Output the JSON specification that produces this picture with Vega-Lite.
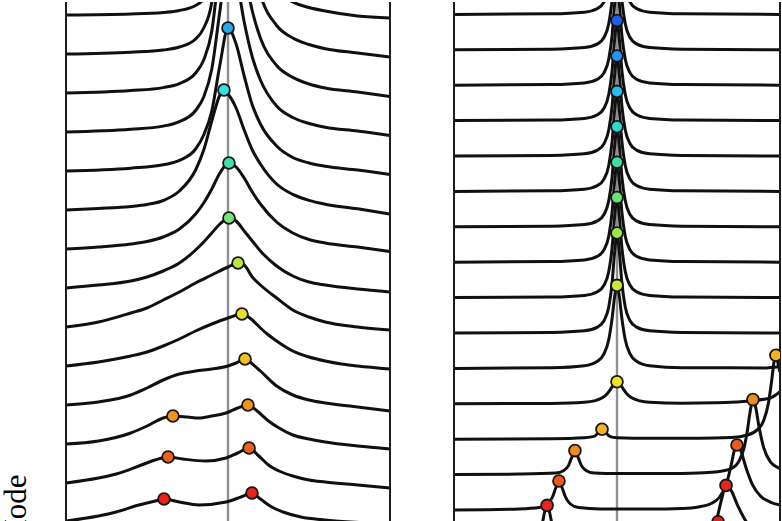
{
"$schema": "https://vega.github.io/schema/vega-lite/v6.json",
"padding": {"left": 0, "top": 0, "right": 0, "bottom": 0},
"spacing": 62,
"background": "white",
"config": {"view": {"stroke": null}},
"resolve": {"scale": {"x": "independent", "y": "independent", "color": "independent"}},
"datasets": {
"frame": [{"x": -1}, {"x": 1}],
"center": [{"x": 0}],
"lc": [
{"k":13,"x":-1,"y":507},{"k":13,"x":-0.6,"y":508},{"k":13,"x":-0.4,"y":509.5},{"k":13,"x":-0.3,"y":511.5},{"k":13,"x":-0.2,"y":516.5},{"k":13,"x":-0.15,"y":523},{"k":13,"x":-0.1,"y":541},{"k":13,"x":-0.05,"y":607},{"k":13,"x":0,"y":807},{"k":13,"x":0.05,"y":737},{"k":13,"x":0.1,"y":642},{"k":13,"x":0.15,"y":587},{"k":13,"x":0.2,"y":557},{"k":13,"x":0.3,"y":532},{"k":13,"x":0.4,"y":520},{"k":13,"x":0.5,"y":514.5},{"k":13,"x":0.6,"y":511},{"k":13,"x":0.8,"y":506},{"k":13,"x":1,"y":504},
{"k":12,"x":-1,"y":468},{"k":12,"x":-0.6,"y":469.8},{"k":12,"x":-0.4,"y":472},{"k":12,"x":-0.3,"y":475},{"k":12,"x":-0.2,"y":483},{"k":12,"x":-0.15,"y":494},{"k":12,"x":-0.1,"y":520},{"k":12,"x":-0.05,"y":598},{"k":12,"x":0,"y":728},{"k":12,"x":0.05,"y":683},{"k":12,"x":0.1,"y":610},{"k":12,"x":0.15,"y":559},{"k":12,"x":0.2,"y":527},{"k":12,"x":0.3,"y":496.5},{"k":12,"x":0.4,"y":484},{"k":12,"x":0.5,"y":477.5},{"k":12,"x":0.6,"y":473.3},{"k":12,"x":0.8,"y":469},{"k":12,"x":1,"y":465},
{"k":11,"x":-1,"y":429},{"k":11,"x":-0.6,"y":431.4},{"k":11,"x":-0.4,"y":434.4},{"k":11,"x":-0.3,"y":438.4},{"k":11,"x":-0.2,"y":449},{"k":11,"x":-0.15,"y":462},{"k":11,"x":-0.1,"y":491},{"k":11,"x":-0.05,"y":561},{"k":11,"x":0,"y":639},{"k":11,"x":0.05,"y":608},{"k":11,"x":0.1,"y":553},{"k":11,"x":0.15,"y":511},{"k":11,"x":0.2,"y":484},{"k":11,"x":0.3,"y":456.5},{"k":11,"x":0.4,"y":444.6},{"k":11,"x":0.5,"y":438},{"k":11,"x":0.6,"y":434},{"k":11,"x":0.8,"y":430},{"k":11,"x":1,"y":425.5},
{"k":10,"x":-1,"y":390},{"k":10,"x":-0.6,"y":392.7},{"k":10,"x":-0.4,"y":395.9},{"k":10,"x":-0.3,"y":400.3},{"k":10,"x":-0.2,"y":411.5},{"k":10,"x":-0.15,"y":425},{"k":10,"x":-0.1,"y":453},{"k":10,"x":-0.05,"y":511},{"k":10,"x":0,"y":565},{"k":10,"x":0.05,"y":545},{"k":10,"x":0.1,"y":500},{"k":10,"x":0.15,"y":465},{"k":10,"x":0.2,"y":442},{"k":10,"x":0.3,"y":416},{"k":10,"x":0.4,"y":404.5},{"k":10,"x":0.5,"y":398.5},{"k":10,"x":0.6,"y":394.8},{"k":10,"x":0.8,"y":391},{"k":10,"x":1,"y":386.5},
{"k":9,"x":-1,"y":351},{"k":9,"x":-0.6,"y":353.8},{"k":9,"x":-0.4,"y":357.2},{"k":9,"x":-0.3,"y":361.6},{"k":9,"x":-0.2,"y":373},{"k":9,"x":-0.15,"y":387},{"k":9,"x":-0.1,"y":411},{"k":9,"x":-0.05,"y":457},{"k":9,"x":0,"y":494},{"k":9,"x":0.05,"y":478},{"k":9,"x":0.1,"y":446},{"k":9,"x":0.15,"y":417},{"k":9,"x":0.2,"y":398},{"k":9,"x":0.3,"y":376},{"k":9,"x":0.4,"y":364.5},{"k":9,"x":0.5,"y":359},{"k":9,"x":0.6,"y":355.7},{"k":9,"x":0.8,"y":352},{"k":9,"x":1,"y":347.5},
{"k":8,"x":-1,"y":312},{"k":8,"x":-0.8,"y":313.5},{"k":8,"x":-0.6,"y":315.5},{"k":8,"x":-0.5,"y":317.5},{"k":8,"x":-0.4,"y":321.5},{"k":8,"x":-0.3,"y":331},{"k":8,"x":-0.2,"y":352},{"k":8,"x":-0.15,"y":372},{"k":8,"x":-0.1,"y":401},{"k":8,"x":-0.05,"y":427},{"k":8,"x":-0.025,"y":432},{"k":8,"x":0,"y":428},{"k":8,"x":0.05,"y":414},{"k":8,"x":0.1,"y":392},{"k":8,"x":0.15,"y":372},{"k":8,"x":0.2,"y":358},{"k":8,"x":0.3,"y":338},{"k":8,"x":0.4,"y":327.6},{"k":8,"x":0.5,"y":321.6},{"k":8,"x":0.6,"y":317.8},{"k":8,"x":0.8,"y":313.2},{"k":8,"x":1,"y":308},
{"k":7,"x":-1,"y":273},{"k":7,"x":-0.8,"y":275},{"k":7,"x":-0.6,"y":278},{"k":7,"x":-0.5,"y":280.5},{"k":7,"x":-0.4,"y":285},{"k":7,"x":-0.3,"y":293},{"k":7,"x":-0.2,"y":308},{"k":7,"x":-0.15,"y":319},{"k":7,"x":-0.1,"y":333},{"k":7,"x":-0.05,"y":349},{"k":7,"x":0.006,"y":359},{"k":7,"x":0.05,"y":355},{"k":7,"x":0.1,"y":344},{"k":7,"x":0.15,"y":330},{"k":7,"x":0.2,"y":318},{"k":7,"x":0.3,"y":300},{"k":7,"x":0.4,"y":289},{"k":7,"x":0.5,"y":282.5},{"k":7,"x":0.6,"y":279},{"k":7,"x":0.8,"y":275},{"k":7,"x":1,"y":270.5},
{"k":6,"x":-1,"y":234},{"k":6,"x":-0.8,"y":237},{"k":6,"x":-0.6,"y":241},{"k":6,"x":-0.5,"y":245},{"k":6,"x":-0.4,"y":251},{"k":6,"x":-0.3,"y":259},{"k":6,"x":-0.2,"y":272},{"k":6,"x":-0.15,"y":280},{"k":6,"x":-0.1,"y":289},{"k":6,"x":-0.05,"y":298},{"k":6,"x":0.006,"y":304},{"k":6,"x":0.05,"y":301},{"k":6,"x":0.1,"y":291},{"k":6,"x":0.15,"y":281},{"k":6,"x":0.2,"y":271},{"k":6,"x":0.3,"y":256},{"k":6,"x":0.4,"y":246},{"k":6,"x":0.5,"y":240},{"k":6,"x":0.6,"y":237},{"k":6,"x":0.8,"y":233},{"k":6,"x":1,"y":230},
{"k":5,"x":-1,"y":195},{"k":5,"x":-0.8,"y":200},{"k":5,"x":-0.6,"y":209},{"k":5,"x":-0.5,"y":214},{"k":5,"x":-0.4,"y":222},{"k":5,"x":-0.3,"y":230},{"k":5,"x":-0.2,"y":239},{"k":5,"x":-0.1,"y":247},{"k":5,"x":0,"y":255},{"k":5,"x":0.062,"y":259},{"k":5,"x":0.1,"y":257},{"k":5,"x":0.15,"y":245},{"k":5,"x":0.2,"y":237},{"k":5,"x":0.3,"y":224},{"k":5,"x":0.4,"y":212},{"k":5,"x":0.5,"y":205},{"k":5,"x":0.6,"y":200},{"k":5,"x":0.8,"y":195},{"k":5,"x":1,"y":192},
{"k":4,"x":-1,"y":156},{"k":4,"x":-0.8,"y":160},{"k":4,"x":-0.6,"y":166},{"k":4,"x":-0.5,"y":170},{"k":4,"x":-0.4,"y":176},{"k":4,"x":-0.3,"y":183},{"k":4,"x":-0.2,"y":191},{"k":4,"x":-0.1,"y":198},{"k":4,"x":0,"y":204},{"k":4,"x":0.086,"y":208},{"k":4,"x":0.15,"y":202},{"k":4,"x":0.2,"y":194},{"k":4,"x":0.25,"y":187},{"k":4,"x":0.3,"y":181},{"k":4,"x":0.4,"y":171},{"k":4,"x":0.5,"y":165},{"k":4,"x":0.6,"y":161},{"k":4,"x":0.7,"y":158},{"k":4,"x":0.8,"y":156},{"k":4,"x":1,"y":153},
{"k":3,"x":-1,"y":117},{"k":3,"x":-0.8,"y":120},{"k":3,"x":-0.6,"y":127},{"k":3,"x":-0.5,"y":134},{"k":3,"x":-0.4,"y":142},{"k":3,"x":-0.3,"y":148},{"k":3,"x":-0.2,"y":151},{"k":3,"x":-0.1,"y":153},{"k":3,"x":0,"y":156},{"k":3,"x":0.05,"y":159},{"k":3,"x":0.105,"y":163},{"k":3,"x":0.15,"y":158},{"k":3,"x":0.2,"y":151},{"k":3,"x":0.3,"y":136},{"k":3,"x":0.4,"y":127},{"k":3,"x":0.5,"y":122},{"k":3,"x":0.6,"y":119},{"k":3,"x":0.8,"y":115},{"k":3,"x":1,"y":111},
{"k":2,"x":-1,"y":78},{"k":2,"x":-0.8,"y":81},{"k":2,"x":-0.6,"y":89},{"k":2,"x":-0.5,"y":96},{"k":2,"x":-0.4,"y":104},{"k":2,"x":-0.34,"y":106},{"k":2,"x":-0.25,"y":105},{"k":2,"x":-0.18,"y":104},{"k":2,"x":-0.1,"y":106},{"k":2,"x":-0.012,"y":109},{"k":2,"x":0.06,"y":114},{"k":2,"x":0.123,"y":117},{"k":2,"x":0.18,"y":111},{"k":2,"x":0.25,"y":101},{"k":2,"x":0.315,"y":94},{"k":2,"x":0.4,"y":87},{"k":2,"x":0.5,"y":83},{"k":2,"x":0.6,"y":80},{"k":2,"x":0.8,"y":76},{"k":2,"x":1,"y":73},
{"k":1,"x":-1,"y":39},{"k":1,"x":-0.8,"y":44},{"k":1,"x":-0.69,"y":48},{"k":1,"x":-0.55,"y":56},{"k":1,"x":-0.45,"y":62},{"k":1,"x":-0.37,"y":65},{"k":1,"x":-0.28,"y":63},{"k":1,"x":-0.136,"y":61},{"k":1,"x":-0.012,"y":64},{"k":1,"x":0.06,"y":69},{"k":1,"x":0.13,"y":74},{"k":1,"x":0.19,"y":66},{"k":1,"x":0.25,"y":57},{"k":1,"x":0.315,"y":51},{"k":1,"x":0.4,"y":46},{"k":1,"x":0.5,"y":42},{"k":1,"x":0.6,"y":40},{"k":1,"x":0.8,"y":37},{"k":1,"x":1,"y":34},
{"k":0,"x":-1,"y":1},{"k":0,"x":-0.8,"y":6},{"k":0,"x":-0.69,"y":10},{"k":0,"x":-0.55,"y":17},{"k":0,"x":-0.45,"y":21},{"k":0,"x":-0.395,"y":23},{"k":0,"x":-0.3,"y":20},{"k":0,"x":-0.18,"y":17},{"k":0,"x":-0.012,"y":20},{"k":0,"x":0.08,"y":25},{"k":0,"x":0.148,"y":29},{"k":0,"x":0.2,"y":23},{"k":0,"x":0.27,"y":15},{"k":0,"x":0.34,"y":10},{"k":0,"x":0.45,"y":5},{"k":0,"x":0.6,"y":2},{"k":0,"x":0.85,"y":-1},{"k":0,"x":1,"y":-3}
],
"ld": [
{"k":9,"x":0,"y":494},{"k":8,"x":-0.025,"y":432},{"k":7,"x":0.006,"y":359},{"k":6,"x":0.006,"y":304},{"k":5,"x":0.062,"y":259},{"k":4,"x":0.086,"y":208},{"k":3,"x":0.105,"y":163},{"k":2,"x":0.123,"y":117},{"k":2,"x":-0.34,"y":106},{"k":1,"x":0.13,"y":74},{"k":1,"x":-0.37,"y":65},{"k":0,"x":0.148,"y":29},{"k":0,"x":-0.395,"y":23}
],
"rc": [
{"k":14,"x":-1,"y":495.6},{"k":14,"x":-0.4,"y":496.2},{"k":14,"x":-0.2,"y":497.8},{"k":14,"x":-0.12,"y":501.5},{"k":14,"x":-0.08,"y":507.9},{"k":14,"x":-0.05,"y":522.1},{"k":14,"x":-0.03,"y":545.6},{"k":14,"x":-0.015,"y":575.6},{"k":14,"x":0,"y":595.6},{"k":14,"x":0.015,"y":575.6},{"k":14,"x":0.03,"y":545.6},{"k":14,"x":0.05,"y":522.1},{"k":14,"x":0.08,"y":507.9},{"k":14,"x":0.12,"y":501.5},{"k":14,"x":0.2,"y":497.8},{"k":14,"x":0.4,"y":496.2},{"k":14,"x":1,"y":495.6},
{"k":13,"x":-1,"y":460.2},{"k":13,"x":-0.4,"y":460.8},{"k":13,"x":-0.2,"y":462.4},{"k":13,"x":-0.12,"y":466.1},{"k":13,"x":-0.08,"y":472.5},{"k":13,"x":-0.05,"y":486.7},{"k":13,"x":-0.03,"y":510.2},{"k":13,"x":-0.015,"y":540.2},{"k":13,"x":0,"y":560.2},{"k":13,"x":0.015,"y":540.2},{"k":13,"x":0.03,"y":510.2},{"k":13,"x":0.05,"y":486.7},{"k":13,"x":0.08,"y":472.5},{"k":13,"x":0.12,"y":466.1},{"k":13,"x":0.2,"y":462.4},{"k":13,"x":0.4,"y":460.8},{"k":13,"x":1,"y":460.2},
{"k":12,"x":-1,"y":424.8},{"k":12,"x":-0.4,"y":425.4},{"k":12,"x":-0.2,"y":427},{"k":12,"x":-0.12,"y":430.7},{"k":12,"x":-0.08,"y":437.1},{"k":12,"x":-0.05,"y":451.3},{"k":12,"x":-0.03,"y":474.8},{"k":12,"x":-0.015,"y":504.8},{"k":12,"x":0,"y":524.8},{"k":12,"x":0.015,"y":504.8},{"k":12,"x":0.03,"y":474.8},{"k":12,"x":0.05,"y":451.3},{"k":12,"x":0.08,"y":437.1},{"k":12,"x":0.12,"y":430.7},{"k":12,"x":0.2,"y":427},{"k":12,"x":0.4,"y":425.4},{"k":12,"x":1,"y":424.8},
{"k":11,"x":-1,"y":389.4},{"k":11,"x":-0.4,"y":390},{"k":11,"x":-0.2,"y":391.6},{"k":11,"x":-0.12,"y":395.3},{"k":11,"x":-0.08,"y":401.7},{"k":11,"x":-0.05,"y":415.9},{"k":11,"x":-0.03,"y":439.4},{"k":11,"x":-0.015,"y":469.4},{"k":11,"x":0,"y":489.4},{"k":11,"x":0.015,"y":469.4},{"k":11,"x":0.03,"y":439.4},{"k":11,"x":0.05,"y":415.9},{"k":11,"x":0.08,"y":401.7},{"k":11,"x":0.12,"y":395.3},{"k":11,"x":0.2,"y":391.6},{"k":11,"x":0.4,"y":390},{"k":11,"x":1,"y":389.4},
{"k":10,"x":-1,"y":354},{"k":10,"x":-0.4,"y":354.6},{"k":10,"x":-0.2,"y":356.2},{"k":10,"x":-0.12,"y":359.9},{"k":10,"x":-0.08,"y":366.3},{"k":10,"x":-0.05,"y":380.5},{"k":10,"x":-0.03,"y":404},{"k":10,"x":-0.015,"y":434},{"k":10,"x":0,"y":454},{"k":10,"x":0.015,"y":434},{"k":10,"x":0.03,"y":404},{"k":10,"x":0.05,"y":380.5},{"k":10,"x":0.08,"y":366.3},{"k":10,"x":0.12,"y":359.9},{"k":10,"x":0.2,"y":356.2},{"k":10,"x":0.4,"y":354.6},{"k":10,"x":1,"y":354},
{"k":9,"x":-1,"y":318.6},{"k":9,"x":-0.4,"y":319.2},{"k":9,"x":-0.2,"y":320.8},{"k":9,"x":-0.12,"y":324.5},{"k":9,"x":-0.08,"y":330.9},{"k":9,"x":-0.05,"y":345.1},{"k":9,"x":-0.03,"y":368.6},{"k":9,"x":-0.015,"y":398.6},{"k":9,"x":0,"y":418.6},{"k":9,"x":0.015,"y":398.6},{"k":9,"x":0.03,"y":368.6},{"k":9,"x":0.05,"y":345.1},{"k":9,"x":0.08,"y":330.9},{"k":9,"x":0.12,"y":324.5},{"k":9,"x":0.2,"y":320.8},{"k":9,"x":0.4,"y":319.2},{"k":9,"x":1,"y":318.6},
{"k":8,"x":-1,"y":283.2},{"k":8,"x":-0.4,"y":283.8},{"k":8,"x":-0.2,"y":285.4},{"k":8,"x":-0.12,"y":289.1},{"k":8,"x":-0.08,"y":295.5},{"k":8,"x":-0.05,"y":309.7},{"k":8,"x":-0.03,"y":333.2},{"k":8,"x":-0.015,"y":363.2},{"k":8,"x":0,"y":383.2},{"k":8,"x":0.015,"y":363.2},{"k":8,"x":0.03,"y":333.2},{"k":8,"x":0.05,"y":309.7},{"k":8,"x":0.08,"y":295.5},{"k":8,"x":0.12,"y":289.1},{"k":8,"x":0.2,"y":285.4},{"k":8,"x":0.4,"y":283.8},{"k":8,"x":1,"y":283.2},
{"k":7,"x":-1,"y":247.8},{"k":7,"x":-0.4,"y":248.4},{"k":7,"x":-0.2,"y":250},{"k":7,"x":-0.12,"y":253.7},{"k":7,"x":-0.08,"y":260.1},{"k":7,"x":-0.05,"y":274.3},{"k":7,"x":-0.03,"y":297.8},{"k":7,"x":-0.015,"y":327.8},{"k":7,"x":0,"y":347.8},{"k":7,"x":0.015,"y":327.8},{"k":7,"x":0.03,"y":297.8},{"k":7,"x":0.05,"y":274.3},{"k":7,"x":0.08,"y":260.1},{"k":7,"x":0.12,"y":253.7},{"k":7,"x":0.2,"y":250},{"k":7,"x":0.4,"y":248.4},{"k":7,"x":1,"y":247.8},
{"k":6,"x":-1,"y":212.4},{"k":6,"x":-0.4,"y":213},{"k":6,"x":-0.2,"y":214.6},{"k":6,"x":-0.12,"y":218.3},{"k":6,"x":-0.08,"y":224.7},{"k":6,"x":-0.05,"y":238.9},{"k":6,"x":-0.03,"y":262.4},{"k":6,"x":-0.015,"y":292.4},{"k":6,"x":0,"y":312.4},{"k":6,"x":0.015,"y":292.4},{"k":6,"x":0.03,"y":262.4},{"k":6,"x":0.05,"y":238.9},{"k":6,"x":0.08,"y":224.7},{"k":6,"x":0.12,"y":218.3},{"k":6,"x":0.2,"y":214.6},{"k":6,"x":0.4,"y":213},{"k":6,"x":1,"y":212.4},
{"k":5,"x":-1,"y":177},{"k":5,"x":-0.4,"y":177.6},{"k":5,"x":-0.2,"y":179.2},{"k":5,"x":-0.12,"y":182.9},{"k":5,"x":-0.08,"y":189.3},{"k":5,"x":-0.05,"y":203.5},{"k":5,"x":-0.03,"y":227},{"k":5,"x":-0.015,"y":257},{"k":5,"x":0,"y":277},{"k":5,"x":0.015,"y":257},{"k":5,"x":0.03,"y":227},{"k":5,"x":0.05,"y":203.5},{"k":5,"x":0.08,"y":189.3},{"k":5,"x":0.12,"y":182.9},{"k":5,"x":0.2,"y":179.2},{"k":5,"x":0.4,"y":177.6},{"k":5,"x":1,"y":177},
{"k":4,"x":-1,"y":141.6},{"k":4,"x":-0.4,"y":142.3},{"k":4,"x":-0.2,"y":144.3},{"k":4,"x":-0.12,"y":148.8},{"k":4,"x":-0.08,"y":156.1},{"k":4,"x":-0.05,"y":170.8},{"k":4,"x":-0.03,"y":191.6},{"k":4,"x":-0.015,"y":212.9},{"k":4,"x":0,"y":224.6},{"k":4,"x":0.015,"y":212.9},{"k":4,"x":0.03,"y":191.6},{"k":4,"x":0.05,"y":170.8},{"k":4,"x":0.08,"y":156.1},{"k":4,"x":0.12,"y":148.8},{"k":4,"x":0.2,"y":144.3},{"k":4,"x":0.4,"y":142.3},{"k":4,"x":0.9,"y":142.1},{"k":4,"x":1,"y":143.6},
{"k":3,"x":-1,"y":106.2},{"k":3,"x":-0.4,"y":106.6},{"k":3,"x":-0.2,"y":107.7},{"k":3,"x":-0.14,"y":109.1},{"k":3,"x":-0.09,"y":112.2},{"k":3,"x":-0.06,"y":116.3},{"k":3,"x":-0.04,"y":120.6},{"k":3,"x":-0.02,"y":125.6},{"k":3,"x":0,"y":128.2},{"k":3,"x":0.02,"y":125.6},{"k":3,"x":0.04,"y":120.6},{"k":3,"x":0.06,"y":116.3},{"k":3,"x":0.09,"y":112.2},{"k":3,"x":0.14,"y":109.1},{"k":3,"x":0.2,"y":107.7},{"k":3,"x":0.4,"y":106.8},{"k":3,"x":0.6,"y":107.2},{"k":3,"x":0.7,"y":107.7},{"k":3,"x":0.83,"y":109.2},{"k":3,"x":0.9,"y":110.7},{"k":3,"x":0.95,"y":112.7},{"k":3,"x":1,"y":118.2},
{"k":2,"x":-1,"y":70.8},{"k":2,"x":-0.4,"y":71.3},{"k":2,"x":-0.2,"y":72.3},{"k":2,"x":-0.14,"y":73.6},{"k":2,"x":-0.11,"y":78.2},{"k":2,"x":-0.092,"y":80.8},{"k":2,"x":-0.074,"y":78.2},{"k":2,"x":-0.045,"y":73.7},{"k":2,"x":0,"y":72.3},{"k":2,"x":0.2,"y":71.8},{"k":2,"x":0.5,"y":71.8},{"k":2,"x":0.7,"y":72.5},{"k":2,"x":0.8,"y":75},{"k":2,"x":0.86,"y":80.1},{"k":2,"x":0.9,"y":89.4},{"k":2,"x":0.93,"y":107.8},{"k":2,"x":0.95,"y":130.8},{"k":2,"x":0.965,"y":149.8},{"k":2,"x":0.975,"y":154.8},{"k":2,"x":0.99,"y":144.8},{"k":2,"x":1,"y":137.8},
{"k":1,"x":-1,"y":35.4},{"k":1,"x":-0.6,"y":35.9},{"k":1,"x":-0.376,"y":36.9},{"k":1,"x":-0.326,"y":39.5},{"k":1,"x":-0.298,"y":44.4},{"k":1,"x":-0.278,"y":52.4},{"k":1,"x":-0.258,"y":59.4},{"k":1,"x":-0.238,"y":52.4},{"k":1,"x":-0.218,"y":44.4},{"k":1,"x":-0.19,"y":39.5},{"k":1,"x":-0.14,"y":36.9},{"k":1,"x":0,"y":36.4},{"k":1,"x":0.3,"y":36.4},{"k":1,"x":0.5,"y":36.9},{"k":1,"x":0.6,"y":37.9},{"k":1,"x":0.7,"y":41.4},{"k":1,"x":0.75,"y":49.4},{"k":1,"x":0.78,"y":62.4},{"k":1,"x":0.8,"y":79.4},{"k":1,"x":0.815,"y":96.4},{"k":1,"x":0.834,"y":110.4},{"k":1,"x":0.85,"y":103.4},{"k":1,"x":0.87,"y":84.4},{"k":1,"x":0.9,"y":62.4},{"k":1,"x":0.94,"y":48.4},{"k":1,"x":0.97,"y":44},{"k":1,"x":1,"y":41.4},
{"k":0,"x":-1,"y":0},{"k":0,"x":-0.6,"y":1},{"k":0,"x":-0.476,"y":2.4},{"k":0,"x":-0.426,"y":6},{"k":0,"x":-0.396,"y":13},{"k":0,"x":-0.376,"y":22},{"k":0,"x":-0.356,"y":29},{"k":0,"x":-0.336,"y":22},{"k":0,"x":-0.316,"y":13},{"k":0,"x":-0.286,"y":6},{"k":0,"x":-0.236,"y":2.4},{"k":0,"x":-0.1,"y":1},{"k":0,"x":0.2,"y":1},{"k":0,"x":0.4,"y":1.6},{"k":0,"x":0.5,"y":3.1},{"k":0,"x":0.58,"y":6.7},{"k":0,"x":0.63,"y":13},{"k":0,"x":0.67,"y":25.5},{"k":0,"x":0.7,"y":44.5},{"k":0,"x":0.72,"y":59.6},{"k":0,"x":0.736,"y":65},{"k":0,"x":0.76,"y":59},{"k":0,"x":0.79,"y":43},{"k":0,"x":0.83,"y":25.7},{"k":0,"x":0.88,"y":14},{"k":0,"x":0.94,"y":7.9},{"k":0,"x":1,"y":5},
{"k":-1,"x":-1,"y":-35.4},{"k":-1,"x":-0.58,"y":-33.6},{"k":-1,"x":-0.52,"y":-30.8},{"k":-1,"x":-0.49,"y":-26.4},{"k":-1,"x":-0.46,"y":-14.4},{"k":-1,"x":-0.44,"y":0.6},{"k":-1,"x":-0.429,"y":4.6},{"k":-1,"x":-0.418,"y":0.6},{"k":-1,"x":-0.398,"y":-14.4},{"k":-1,"x":-0.368,"y":-26.4},{"k":-1,"x":-0.338,"y":-30.8},{"k":-1,"x":-0.28,"y":-33.6},{"k":-1,"x":0,"y":-34.4},{"k":-1,"x":0.3,"y":-33.9},{"k":-1,"x":0.45,"y":-32.4},{"k":-1,"x":0.52,"y":-29.4},{"k":-1,"x":0.57,"y":-23.4},{"k":-1,"x":0.61,"y":-10.4},{"k":-1,"x":0.64,"y":9.6},{"k":-1,"x":0.669,"y":24.6},{"k":-1,"x":0.7,"y":19.6},{"k":-1,"x":0.74,"y":4.6},{"k":-1,"x":0.8,"y":-13.4},{"k":-1,"x":0.87,"y":-23.4},{"k":-1,"x":1,"y":-30.4},
{"k":-2,"x":-1,"y":-70.8},{"k":-2,"x":-0.6,"y":-68.8},{"k":-2,"x":-0.56,"y":-65.8},{"k":-2,"x":-0.52,"y":-50.8},{"k":-2,"x":-0.49,"y":-20.8},{"k":-2,"x":-0.46,"y":-50.8},{"k":-2,"x":-0.42,"y":-65.8},{"k":-2,"x":-0.3,"y":-68.8},{"k":-2,"x":0,"y":-69.8},{"k":-2,"x":0.4,"y":-68.8},{"k":-2,"x":0.5,"y":-65.8},{"k":-2,"x":0.56,"y":-56.8},{"k":-2,"x":0.59,"y":-37.8},{"k":-2,"x":0.62,"y":-11.8},{"k":-2,"x":0.65,"y":-25.8},{"k":-2,"x":0.7,"y":-46.8},{"k":-2,"x":0.8,"y":-61.8},{"k":-2,"x":1,"y":-66.8}
],
"rd": [
{"k":11,"x":0,"y":489.4},{"k":10,"x":0,"y":454},{"k":9,"x":0,"y":418.6},{"k":8,"x":0,"y":383.2},{"k":7,"x":0,"y":347.8},{"k":6,"x":0,"y":312.4},{"k":5,"x":0,"y":277},{"k":4,"x":0,"y":224.6},{"k":3,"x":0,"y":128.2},{"k":2,"x":-0.092,"y":80.8},{"k":2,"x":0.975,"y":154.8},{"k":1,"x":-0.258,"y":59.4},{"k":1,"x":0.834,"y":110.4},{"k":0,"x":-0.356,"y":29},{"k":0,"x":0.736,"y":65},{"k":-1,"x":-0.429,"y":4.6},{"k":-1,"x":0.669,"y":24.6},{"k":-2,"x":0.62,"y":-11.8}
]
},
"hconcat": [
{
"width": 324, "height": 521,
"layer": [
{"data": {"name": "center"}, "mark": {"type": "rule", "color": "#8f8f8f", "strokeWidth": 2.4}, "encoding": {"x": {"field": "x", "type": "quantitative", "scale": {"domain": [-1, 1], "nice": false, "zero": false}, "axis": null}}},
{"data": {"name": "lc"}, "mark": {"type": "line", "clip": true, "interpolate": "monotone", "color": "#101010", "strokeWidth": 3},
 "encoding": {
  "x": {"field": "x", "type": "quantitative", "axis": null},
  "y": {"field": "y", "type": "quantitative", "scale": {"domain": [-1, 520], "nice": false, "zero": false},
        "axis": {"title": "Mode", "domain": false, "ticks": false, "labels": false, "grid": false, "titleX": -41, "titleY": 472, "titleAlign": "right", "titleAngle": 270, "titleBaseline": "alphabetic", "titleFont": "Liberation Serif", "titleFontSize": 31, "titleFontWeight": "normal", "titleColor": "#000000"}},
  "detail": {"field": "k", "type": "nominal"}}},
{"data": {"name": "frame"}, "mark": {"type": "rule", "color": "#1e1e1e", "strokeWidth": 2}, "encoding": {"x": {"field": "x", "type": "quantitative", "axis": null}}},
{"data": {"name": "ld"}, "mark": {"type": "circle", "clip": true, "size": 140, "opacity": 1, "stroke": "#151515", "strokeWidth": 1.8},
 "encoding": {
  "x": {"field": "x", "type": "quantitative", "axis": null},
  "y": {"field": "y", "type": "quantitative",
        "axis": {"title": "Mode", "domain": false, "ticks": false, "labels": false, "grid": false, "titleX": -41, "titleY": 472, "titleAlign": "right", "titleAngle": 270, "titleBaseline": "alphabetic", "titleFont": "Liberation Serif", "titleFontSize": 31, "titleFontWeight": "normal", "titleColor": "#000000"}},
  "color": {"field": "k", "type": "ordinal", "legend": null,
            "scale": {"domain": [0,1,2,3,4,5,6,7,8,9], "range": ["#e8231a","#f0601c","#f5931e","#f4c21d","#e6e02a","#b8e83c","#79e27a","#3fe0a8","#2ee0e0","#27a8ec"]}}}}
]
},
{
"width": 326, "height": 521,
"layer": [
{"data": {"name": "center"}, "mark": {"type": "rule", "color": "#8f8f8f", "strokeWidth": 2.4}, "encoding": {"x": {"field": "x", "type": "quantitative", "scale": {"domain": [-1, 1], "nice": false, "zero": false}, "axis": null}}},
{"data": {"name": "rc"}, "mark": {"type": "line", "clip": true, "interpolate": "monotone", "color": "#101010", "strokeWidth": 3},
 "encoding": {
  "x": {"field": "x", "type": "quantitative", "axis": null},
  "y": {"field": "y", "type": "quantitative", "scale": {"domain": [-13, 508], "nice": false, "zero": false}, "axis": null},
  "detail": {"field": "k", "type": "nominal"}}},
{"data": {"name": "frame"}, "mark": {"type": "rule", "color": "#1e1e1e", "strokeWidth": 2}, "encoding": {"x": {"field": "x", "type": "quantitative", "axis": null}}},
{"data": {"name": "rd"}, "mark": {"type": "circle", "clip": true, "size": 140, "opacity": 1, "stroke": "#151515", "strokeWidth": 1.8},
 "encoding": {
  "x": {"field": "x", "type": "quantitative", "axis": null},
  "y": {"field": "y", "type": "quantitative", "axis": null},
  "color": {"field": "k", "type": "ordinal", "legend": null,
            "scale": {"domain": [-2,-1,0,1,2,3,4,5,6,7,8,9,10,11], "range": ["#e01d1a","#e8261a","#ee5a1a","#f28a1e","#f6b420","#f0e21e","#c9ec34","#9ae846","#69e27a","#3fdfa2","#2ed9d0","#27bdf0","#2593ef","#1f5fe8"]}}}}
]
}
]
}
